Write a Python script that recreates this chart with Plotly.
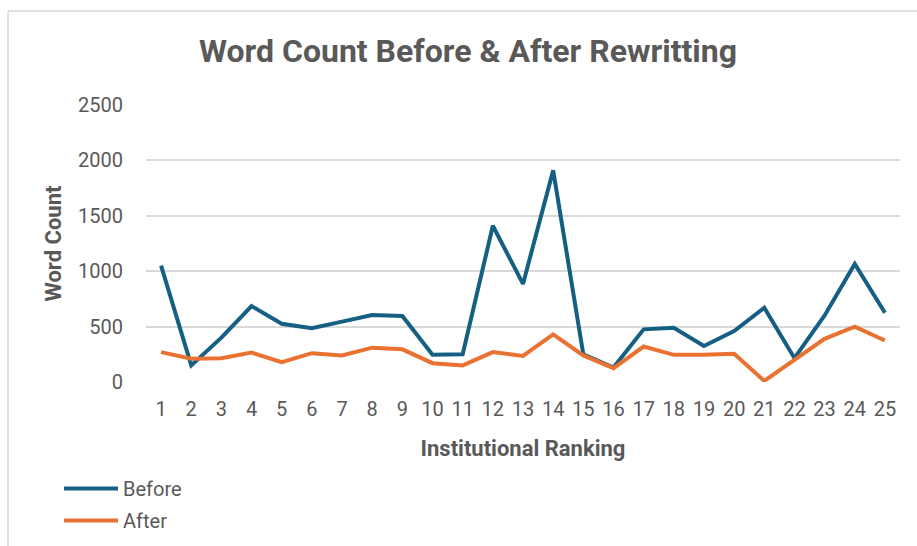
import plotly.graph_objects as go

ranking = list(range(1, 26))
before = [1050, 150, 400, 685, 525, 485, 545, 605, 595, 245, 250, 1410, 885,
          1910, 250, 130, 475, 490, 325, 460, 670, 215, 600, 1065, 625]
after = [270, 210, 215, 265, 180, 260, 240, 310, 295, 170, 150, 270, 235,
         430, 240, 125, 320, 245, 245, 255, 10, 200, 390, 500, 375]
y_ticks = [0, 500, 1000, 1500, 2000, 2500]

BLUE = "#156082"
ORANGE = "#E97132"
GREY = "#595959"
FONT = "Roboto, 'Liberation Sans', Arial, sans-serif"

fig = go.Figure()
fig.add_trace(go.Scatter(x=ranking, y=before, name="Before", mode="lines",
                         legendgroup="before",
                         line=dict(color=BLUE, width=4)))
fig.add_trace(go.Scatter(x=ranking, y=after, name="After", mode="lines",
                         legendgroup="after",
                         line=dict(color=ORANGE, width=4)))

W, H = 917, 546
L, R, T, B = 146, 17, 105, 164
pw, ph = W - L - R, H - T - B

def px(x):
    return (x - L) / pw

def py(y):
    return (H - B - y) / ph

fig.update_layout(
    width=W, height=H,
    margin=dict(l=L, r=R, t=T, b=B, autoexpand=False),
    paper_bgcolor="white", plot_bgcolor="white",
    font=dict(family=FONT, color=GREY, size=20),
    title=dict(text="<b>Word Count Before &amp; After Rewritting</b>",
               x=468 / W, xanchor="center", xref="container",
               y=1 - 51 / H, yanchor="middle", yref="container",
               font=dict(family=FONT, size=32, color=GREY)),
    xaxis=dict(range=[0.5, 25.5], tickmode="array", tickvals=ranking,
               ticktext=[str(r) for r in ranking], showgrid=False,
               zeroline=False, showline=False, ticks="", automargin=False,
               ticklabelstandoff=13,
               tickfont=dict(size=20, color=GREY),
               title=dict(text="<b>Institutional Ranking</b>", standoff=20,
                          font=dict(size=22, color=GREY))),
    yaxis=dict(range=[0, 2500], tickvals=y_ticks, showgrid=True,
               gridcolor="#d9d9d9", gridwidth=1.5, zeroline=False,
               showline=False, ticks="", ticklabelstandoff=22, automargin=False,
               tickfont=dict(size=20, color=GREY),
               title=dict(text="<b>Word Count</b>", standoff=10,
                          font=dict(size=22, color=GREY))),
    legend=dict(orientation="v", x=px(59), xanchor="left",
                y=py(469), yanchor="top", yref="paper",
                font=dict(size=20, color=GREY), itemwidth=54,
                bgcolor="rgba(0,0,0,0)", tracegroupgap=3),
    showlegend=True,
    shapes=[
        dict(type="line", xref="paper", yref="paper", x0=px(8), x1=px(930),
             y0=py(11), y1=py(11), line=dict(color="#d9d9d9", width=1.5)),
        dict(type="line", xref="paper", yref="paper", x0=px(8), x1=px(8),
             y0=py(11), y1=py(560), line=dict(color="#d9d9d9", width=1.5)),
    ],
)

fig.write_html("out.html")
